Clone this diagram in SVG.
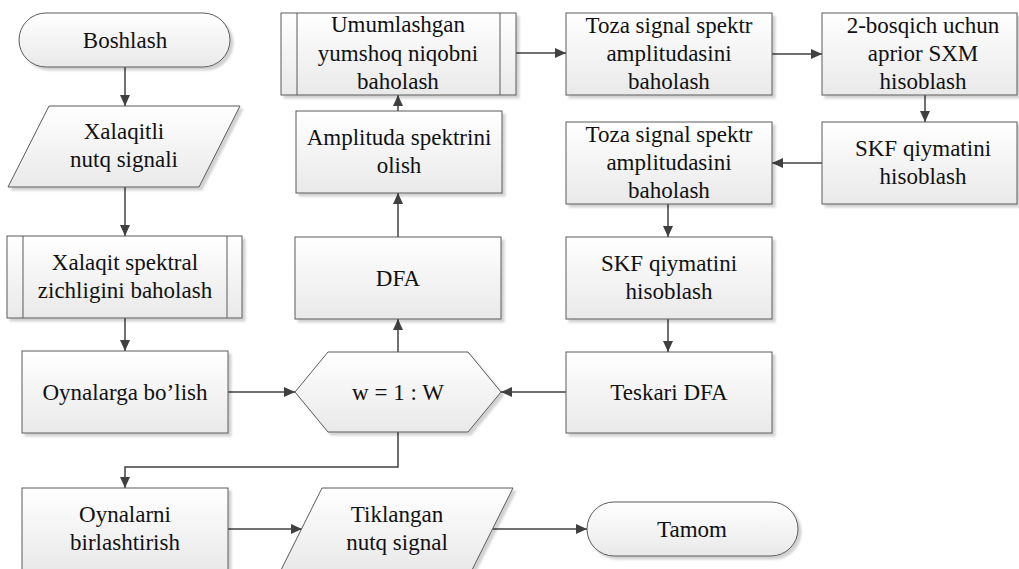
<svg xmlns="http://www.w3.org/2000/svg" width="1019" height="569" viewBox="0 0 1019 569">
  <style>
    .shape { fill: url(#boxFill); stroke: #5a5a5a; stroke-width: 1; filter: url(#shadow); }
    .inner { fill: none; stroke: #5a5a5a; stroke-width: 1; }
    .label { font-family: 'Liberation Serif', 'Times New Roman', serif; font-size: 23px; fill: #111; text-anchor: middle; }
    .conn { fill: none; stroke: #404040; stroke-width: 1.5; marker-end: url(#arrow); }
  </style>
  <defs>
    <linearGradient id="boxFill" x1="0" y1="0" x2="0" y2="1">
      <stop offset="0" stop-color="#ffffff"/>
      <stop offset="1" stop-color="#e9e9e9"/>
    </linearGradient>
    <filter id="shadow" x="-10%" y="-10%" width="130%" height="140%">
      <feDropShadow dx="3" dy="3" stdDeviation="1.2" flood-color="#000" flood-opacity="0.18"/>
    </filter>
    <marker id="arrow" markerWidth="12" markerHeight="12" refX="11" refY="5" orient="auto" markerUnits="userSpaceOnUse">
      <path d="M0,0 L11,5 L0,10 Z" fill="#404040"/>
    </marker>
  </defs>

  <rect width="1019" height="569" fill="#ffffff"/>

  <!-- connectors -->
  <g id="connectors">
    <path class="conn" d="M125,67 V106"/>
    <path class="conn" d="M125,187 V236"/>
    <path class="conn" d="M125,318 V351"/>
    <path class="conn" d="M228,392 H295"/>
    <path class="conn" d="M398,352 V319"/>
    <path class="conn" d="M398,237 V193"/>
    <path class="conn" d="M398,111 V95"/>
    <path class="conn" d="M516,53 H566"/>
    <path class="conn" d="M772,54 H822"/>
    <path class="conn" d="M925,95 V122"/>
    <path class="conn" d="M822,163 H772"/>
    <path class="conn" d="M668,204 V237"/>
    <path class="conn" d="M668,319 V352"/>
    <path class="conn" d="M566,392 H501"/>
    <path class="conn" d="M398,432 V467 H125 V488"/>
    <path class="conn" d="M228,529 H302"/>
    <path class="conn" d="M493,529 H587"/>
  </g>

  <g id="start">
    <rect class="shape" x="19" y="13" width="211" height="54" rx="27" ry="27"/>
    <text class="label" x="125" y="48">Boshlash</text>
  </g>

  <g id="input-signal">
    <polygon class="shape" points="49,106 240,106 199,187 8,187"/>
    <text class="label" x="124" y="139">Xalaqitli</text>
    <text class="label" x="124" y="167">nutq signali</text>
  </g>

  <g id="noise-psd">
    <rect class="shape" x="7" y="236" width="235" height="82"/>
    <line class="inner" x1="23" y1="236" x2="23" y2="318"/>
    <line class="inner" x1="227" y1="236" x2="227" y2="318"/>
    <text class="label" x="125" y="270">Xalaqit spektral</text>
    <text class="label" x="125" y="298">zichligini baholash</text>
  </g>

  <g id="framing">
    <rect class="shape" x="22" y="351" width="206" height="82"/>
    <text class="label" x="125" y="400">Oynalarga bo’lish</text>
  </g>

  <g id="loop">
    <polygon class="shape" points="295,392 328,352 468,352 501,392 468,432 328,432"/>
    <text class="label" x="398" y="400">w = 1 : W</text>
  </g>

  <g id="dft">
    <rect class="shape" x="295" y="237" width="206" height="82"/>
    <text class="label" x="398" y="286">DFA</text>
  </g>

  <g id="amplitude">
    <rect class="shape" x="296" y="111" width="206" height="82"/>
    <text class="label" x="399" y="145">Amplituda spektrini</text>
    <text class="label" x="399" y="173">olish</text>
  </g>

  <g id="soft-mask">
    <rect class="shape" x="281" y="13" width="235" height="82"/>
    <line class="inner" x1="297" y1="13" x2="297" y2="95"/>
    <line class="inner" x1="500" y1="13" x2="500" y2="95"/>
    <text class="label" x="398" y="32">Umumlashgan</text>
    <text class="label" x="398" y="61">yumshoq niqobni</text>
    <text class="label" x="398" y="89">baholash</text>
  </g>

  <g id="clean-amp-1">
    <rect class="shape" x="566" y="13" width="206" height="82"/>
    <text class="label" x="669" y="33">Toza signal spektr</text>
    <text class="label" x="669" y="61">amplitudasini</text>
    <text class="label" x="669" y="89">baholash</text>
  </g>

  <g id="apriori-snr">
    <rect class="shape" x="822" y="13" width="195" height="82"/>
    <text class="label" x="923" y="33">2-bosqich uchun</text>
    <text class="label" x="923" y="61">aprior SXM</text>
    <text class="label" x="923" y="89">hisoblash</text>
  </g>

  <g id="gain-1">
    <rect class="shape" x="822" y="122" width="195" height="82"/>
    <text class="label" x="923" y="156">SKF qiymatini</text>
    <text class="label" x="923" y="184">hisoblash</text>
  </g>

  <g id="clean-amp-2">
    <rect class="shape" x="566" y="122" width="206" height="82"/>
    <text class="label" x="669" y="142">Toza signal spektr</text>
    <text class="label" x="669" y="170">amplitudasini</text>
    <text class="label" x="669" y="198">baholash</text>
  </g>

  <g id="gain-2">
    <rect class="shape" x="566" y="237" width="206" height="82"/>
    <text class="label" x="669" y="271">SKF qiymatini</text>
    <text class="label" x="669" y="299">hisoblash</text>
  </g>

  <g id="inverse-dft">
    <rect class="shape" x="566" y="352" width="206" height="81"/>
    <text class="label" x="669" y="400">Teskari DFA</text>
  </g>

  <g id="overlap-add">
    <rect class="shape" x="22" y="488" width="206" height="82"/>
    <text class="label" x="125" y="522">Oynalarni</text>
    <text class="label" x="125" y="550">birlashtirish</text>
  </g>

  <g id="output-signal">
    <polygon class="shape" points="322,488 513,488 472,570 281,570"/>
    <text class="label" x="397" y="522">Tiklangan</text>
    <text class="label" x="397" y="550">nutq signal</text>
  </g>

  <g id="end">
    <rect class="shape" x="587" y="502" width="211" height="54" rx="27" ry="27"/>
    <text class="label" x="692" y="537">Tamom</text>
  </g>
</svg>
